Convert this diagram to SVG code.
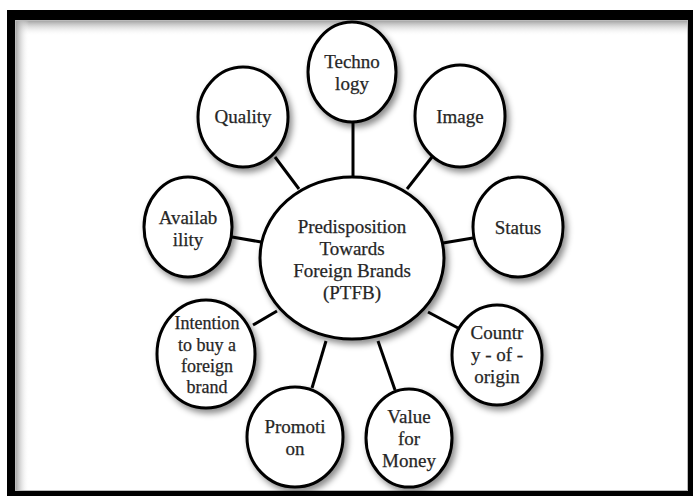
<svg xmlns="http://www.w3.org/2000/svg" width="693" height="496" viewBox="0 0 693 496">
<style>
.n ellipse{fill:#fff;stroke:#000;stroke-width:3;filter:url(#sh)}
.n text{font-family:"Liberation Serif","Times New Roman",serif;font-size:19px;fill:#262626;text-anchor:middle;stroke:#262626;stroke-width:0.25}
.n text.s{font-size:18px}
.c line{stroke:#000;stroke-width:3}
</style>
<defs>
<filter id="sh" x="-20%" y="-20%" width="150%" height="150%">
<feDropShadow dx="3" dy="4" stdDeviation="3" flood-color="#000" flood-opacity="0.45"/>
</filter>
<linearGradient id="gt" x1="0" y1="0" x2="0" y2="1">
<stop offset="0" stop-color="#9a9a9a"/><stop offset="1" stop-color="#fff" stop-opacity="0"/>
</linearGradient>
<linearGradient id="gl" x1="0" y1="0" x2="1" y2="0">
<stop offset="0" stop-color="#9a9a9a"/><stop offset="1" stop-color="#fff" stop-opacity="0"/>
</linearGradient>
</defs>
<rect x="0" y="0" width="693" height="496" fill="#fff"/>
<g id="frame">
<rect x="7" y="10" width="700" height="500" fill="#000"/>
<rect x="15" y="20" width="673" height="471" fill="#fff"/>
<rect x="15" y="20" width="673" height="16" fill="url(#gt)"/>
<rect x="15" y="20" width="14" height="471" fill="url(#gl)"/>
<rect x="15.5" y="20.5" width="672" height="470" fill="none" stroke="#bbb" stroke-width="1"/>
</g>
<g id="connectors" class="c">
<line x1="353" y1="122" x2="353" y2="178"/>
<line x1="275" y1="157" x2="299" y2="189"/>
<line x1="432" y1="157" x2="407" y2="189"/>
<line x1="232" y1="237" x2="261" y2="242"/>
<line x1="473" y1="238" x2="443" y2="243"/>
<line x1="253" y1="325" x2="277" y2="311"/>
<line x1="458" y1="328" x2="428" y2="312"/>
<line x1="312" y1="388" x2="326" y2="341"/>
<line x1="395" y1="390" x2="378" y2="341"/>
</g>
<g id="center" class="n">
<ellipse cx="352" cy="258" rx="92" ry="81"/>
<text x="352" y="233">Predisposition</text>
<text x="352" y="255">Towards</text>
<text x="352" y="277">Foreign Brands</text>
<text x="352" y="299">(PTFB)</text>
</g>
<g id="technology" class="n">
<ellipse cx="352" cy="72" rx="44" ry="50"/>
<text x="352" y="68">Techno</text>
<text x="352" y="90">logy</text>
</g>
<g id="quality" class="n">
<ellipse cx="243" cy="117" rx="45" ry="50"/>
<text x="243" y="123">Quality</text>
</g>
<g id="image" class="n">
<ellipse cx="460" cy="116" rx="45" ry="51"/>
<text x="460" y="123">Image</text>
</g>
<g id="availability" class="n">
<ellipse cx="188" cy="227" rx="44" ry="50"/>
<text x="188" y="224">Availab</text>
<text x="188" y="246">ility</text>
</g>
<g id="status" class="n">
<ellipse cx="518" cy="227" rx="45" ry="50"/>
<text x="518" y="234">Status</text>
</g>
<g id="intention" class="n">
<ellipse cx="206" cy="354" rx="49" ry="54"/>
<text class="s" x="207" y="329">Intention</text>
<text class="s" x="207" y="351">to buy a</text>
<text class="s" x="207" y="372">foreign</text>
<text class="s" x="207" y="393">brand</text>
</g>
<g id="country" class="n">
<ellipse cx="497" cy="355" rx="45" ry="50"/>
<text x="497" y="339">Countr</text>
<text x="497" y="361">y - of -</text>
<text x="497" y="383">origin</text>
</g>
<g id="promotion" class="n">
<ellipse cx="295" cy="437" rx="48" ry="50"/>
<text x="295" y="433">Promoti</text>
<text x="295" y="455">on</text>
</g>
<g id="value" class="n">
<ellipse cx="409" cy="438" rx="43" ry="49"/>
<text x="409" y="423">Value</text>
<text x="409" y="445">for</text>
<text x="409" y="467">Money</text>
</g>
</svg>
